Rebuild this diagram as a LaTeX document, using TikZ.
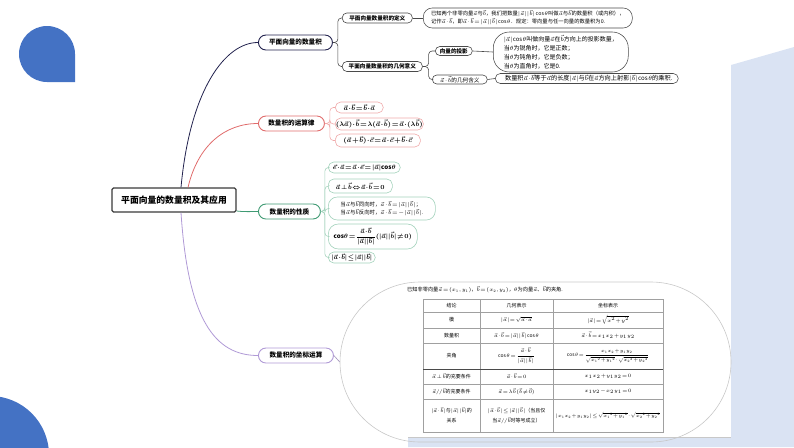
\RequirePackage{fix-cm}
\documentclass[tikz,border=0pt]{standalone}
\usepackage{amsmath,amssymb}
\usepackage{fontspec}
\setmainfont{Noto Sans CJK SC}
\usetikzlibrary{calc}
\definecolor{navyb}{HTML}{22224E}
\definecolor{redb}{HTML}{E06C6C}
\definecolor{redl}{HTML}{F0AAAA}
\definecolor{greenb}{HTML}{3F9A73}
\definecolor{greenl}{HTML}{A3D2BC}
\definecolor{purpb}{HTML}{B09AD6}
\definecolor{dgray}{HTML}{4A4A4A}
\definecolor{cgray}{HTML}{3A3A3A}
\definecolor{tgray}{HTML}{A0A0A0}
\definecolor{stgray}{HTML}{C8C8C8}
\definecolor{bluebg}{HTML}{4472C4}
\definecolor{lightbg}{HTML}{DAE3F3}
\begin{document}
\medmuskip=1mu plus 1mu minus 1mu
\thickmuskip=1.5mu plus 1mu
\thinmuskip=1mu
\begin{tikzpicture}[x=1pt,y=-1pt,
  mainnode/.style={draw=#1, fill=white, rounded corners=7.5pt, minimum height=15pt, inner sep=0pt, line width=0.9pt, font=\fontsize{6.6}{8}\selectfont\bfseries, anchor=west},
  geonode/.style={draw=dgray, fill=white, rounded corners=4.5pt, inner sep=0pt, line width=0.6pt, font=\fontsize{5.6}{7}\selectfont\bfseries, anchor=west},
  geotext/.style={draw=dgray, fill=white, inner sep=0pt, line width=0.55pt, align=left, anchor=west},
  lawnode/.style={draw=redl, fill=white, rounded corners=5.5pt, inner sep=0pt, line width=0.6pt, anchor=west, font=\fontsize{6.4}{8}\selectfont\boldmath},
  propnode/.style={draw=greenl, fill=white, rounded corners=5.5pt, inner sep=0pt, line width=0.6pt, anchor=west, align=center, font=\fontsize{6.2}{8}\selectfont\boldmath},
  cell/.style={inner sep=0pt, font=\fontsize{5}{7}\selectfont, align=center},
  link/.style={line width=0.6pt, rounded corners=3.5pt},
]
\useasboundingbox (0,0) rectangle (794,447);
% background
\fill[lightbg] (731,65) -- (794,47) -- (794,447) -- (408,447) -- (408,438) -- (731,438) -- cycle;
\draw[stgray, line width=0.4pt] (408,437) -- (731,437);
\fill[bluebg] (75,54) arc[start angle=0, end angle=-270, radius=28] -- (75,82) -- cycle;
\begin{scope}
  \clip (0,0) rectangle (794,447);
  \fill[bluebg] (-10,455) circle[radius=59];
\end{scope}

% central node
\node[draw=cgray, line width=1.2pt, rounded corners=1.5pt, minimum width=124, minimum height=24, inner sep=0pt, fill=white, font=\fontsize{8.8}{10}\selectfont\bfseries] (c) at (174,200) {平面向量的数量积及其应用};

% main branch nodes
\node[mainnode=navyb, minimum width=74] (n1) at (258,42.5) {平面向量的数量积};
\node[mainnode=redb, minimum width=66] (n2) at (258,123.5) {数量积的运算律};
\node[mainnode=greenb, minimum width=62] (n3) at (258,211.5) {数量积的性质};
\node[mainnode=purpb, minimum width=75] (n4) at (258,355.5) {数量积的坐标运算};

\draw[navyb, line width=0.8pt] ($(c.north)+(7,0)$) .. controls (190,90) and (225,42.5) .. (n1.west);
\draw[redb, line width=0.8pt] ($(c.north)+(14,0)$) .. controls (198,145) and (225,123.5) .. (n2.west);
\draw[greenb, line width=0.8pt] ($(c.east)+(0,11)$) .. controls (246,212) and (250,211.5) .. (n3.west);
\draw[purpb, line width=0.8pt] ($(c.south)+(7,0)$) .. controls (188,320) and (215,355.5) .. (n4.west);

% branch 1
\node[geonode, minimum width=70, minimum height=10] (d1) at (342,18) {平面向量数量积的定义};
\node[geonode, minimum width=80, minimum height=10] (d2) at (342,66.5) {平面向量数量积的几何意义};
\node[geotext, minimum width=209, minimum height=20, rounded corners=9pt, font=\fontsize{5.3}{8}\selectfont] (d1t) at (423,18)
  {已知两个非零向量$\vec a$与$\vec b$，我们把数量$|\vec a||\vec b|\cos\theta$叫做$\vec a$与$\vec b$的数量积（或内积），\\
   记作$\vec a\cdot\vec b$，即$\vec a\cdot\vec b=|\vec a||\vec b|\cos\theta$．规定：零向量与任一向量的数量积为0.};
\node[geonode, minimum width=37, minimum height=9] (p1) at (435,51) {向量的投影};
\node[geonode, minimum width=55, minimum height=9, font=\fontsize{5.6}{7}\selectfont] (p2) at (432,79.5) {$\vec a\cdot\vec b$的几何含义};
\node[geotext, minimum width=135, minimum height=40, rounded corners=16pt, font=\fontsize{6}{9}\selectfont] (p1t) at (493,52)
  {$|\vec a|\cos\theta$叫做向量$\vec a$在$\vec b$方向上的投影数量，\\
   当$\theta$为锐角时，它是正数；\\
   当$\theta$为钝角时，它是负数；\\
   当$\theta$为直角时，它是0.};
\node[geotext, minimum width=183, minimum height=10, rounded corners=5pt, font=\fontsize{6.2}{8}\selectfont] (p2t) at (495,78.5)
  {\hspace*{4pt}数量积$\vec a\cdot\vec b$等于$\vec a$的长度$|\vec a|$与$\vec b$在$\vec a$方向上射影$|\vec b|\cos\theta$的乘积.};

\draw[link, dgray] (n1.east) -- ++(5,0) |- (d1.west);
\draw[link, dgray] (n1.east) -- ++(5,0) |- (d2.west);
\draw[link, dgray] (d1.east) -- (d1t.west);
\draw[link, dgray] (d2.east) -- ++(6,0) |- (p1.west);
\draw[link, dgray] (d2.east) -- ++(6,0) |- (p2.west);
\draw[link, dgray] (p1.east) -- (p1t.west);
\draw[link, dgray] (p2.east) -- (p2t.west);

% branch 2
\node[lawnode, minimum width=48, minimum height=11] (r1) at (335,107.5) {$\vec a\cdot\vec b=\vec b\cdot\vec a$};
\node[lawnode, minimum width=88, minimum height=12] (r2) at (335,124) {$(\lambda\vec a)\cdot\vec b=\lambda(\vec a\cdot\vec b)=\vec a\cdot(\lambda\vec b)$};
\node[lawnode, minimum width=85, minimum height=13] (r3) at (335,140.5) {$(\vec a+\vec b)\cdot\vec c=\vec a\cdot\vec c+\vec b\cdot\vec c$};
\foreach \t in {r1,r2,r3} \draw[link, redl] (n2.east) -- ++(5,0) |- (\t.west);

% branch 3
\node[propnode, minimum width=72, minimum height=11] (g1) at (328,167.5) {$\vec e\cdot\vec a=\vec a\cdot\vec e=|\vec a|\mathit{cos}\theta$};
\node[propnode, minimum width=64, minimum height=14] (g2) at (328,186) {$\vec a\perp\vec b\Leftrightarrow\vec a\cdot\vec b=0$};
\node[propnode, minimum width=107, minimum height=23, rounded corners=9pt, align=left, font=\fontsize{5.4}{8}\selectfont] (g3) at (328,208.5)
  {当$\vec a$与$\vec b$同向时，$\vec a\cdot\vec b=|\vec a||\vec b|$；\\当$\vec a$与$\vec b$反向时，$\vec a\cdot\vec b=-|\vec a||\vec b|$.};
\node[propnode, minimum width=89, minimum height=25, rounded corners=10pt] (g4) at (328,236.5)
  {$\mathit{cos}\theta=\dfrac{\vec a\cdot\vec b}{|\vec a||\vec b|}(|\vec a||\vec b|\neq0)$};
\node[propnode, minimum width=47, minimum height=11] (g5) at (328,257.5) {$|\vec a\cdot\vec b|\le|\vec a||\vec b|$};
\foreach \t in {g1,g2,g3,g4,g5} \draw[link, greenl] (n3.east) -- ++(4,0) |- (\t.west);

% branch 4: table
\node[draw=stgray, line width=0.6pt, rounded corners=80pt, minimum width=391, minimum height=160, inner sep=0pt] (tb) at (535.5,362) {};
\draw[purpb!70!gray, line width=0.6pt] (n4.east) -- (tb.west);
\node[cell, anchor=west, font=\fontsize{5.2}{7}\selectfont] (cap) at (407,289.5)
  {已知非零向量$\vec a=(x_1,y_1)$，$\vec b=(x_2,y_2)$，$\theta$为向量$\vec a$、$\vec b$的夹角.};
\draw[tgray, line width=0.5pt] (423,299) rectangle (663,432);
\foreach \x in {480,553} \draw[tgray, line width=0.5pt] (\x,299) -- (\x,432);
\foreach \y in {312,328,343,384,399} \draw[tgray, line width=0.5pt] (423,\y) -- (663,\y);
\draw[dgray, line width=0.6pt] (423,369) -- (663,369);

\node[cell] (h1) at (451.5,305.5) {结论};
\node[cell] (h2) at (516.5,305.5) {几何表示};
\node[cell] (h3) at (608,305.5) {坐标表示};
\node[cell] (a1) at (451.5,320) {模};
\node[cell] (a2) at (516.5,320) {$|\vec a|=\sqrt{\vec a\cdot\vec a}$};
\node[cell] (a3) at (608,320) {$|\vec a|=\sqrt{x^2+y^2}$};
\node[cell] (b1) at (451.5,335.5) {数量积};
\node[cell] (b2) at (516.5,335.5) {$\vec a\cdot\vec b=|\vec a||\vec b|\cos\theta$};
\node[cell] (b3) at (608,335.5) {$\vec a\cdot\vec b=x_1x_2+y_1y_2$};
\node[cell] (c1) at (451.5,356) {夹角};
\node[cell] (c2) at (516.5,356) {$\cos\theta=\dfrac{\vec a\cdot\vec b}{|\vec a||\vec b|}$};
\node[cell, font=\fontsize{4.8}{6}\selectfont] (c3) at (608,356) {$\cos\theta=\dfrac{x_1x_2+y_1y_2}{\sqrt{{x_1}^2+{y_1}^2}\cdot\sqrt{{x_2}^2+{y_2}^2}}$};
\node[cell] (e1) at (451.5,376.5) {$\vec a\perp\vec b$的充要条件};
\node[cell] (e2) at (516.5,376.5) {$\vec a\cdot\vec b=0$};
\node[cell] (e3) at (608,376.5) {$x_1x_2+y_1y_2=0$};
\node[cell] (f1) at (451.5,391.5) {$\vec a/\!/\vec b$的充要条件};
\node[cell] (f2) at (516.5,391.5) {$\vec a=\lambda\vec b\,(\vec b\neq\vec 0)$};
\node[cell] (f3) at (608,391.5) {$x_1y_2-x_2y_1=0$};
\node[cell, font=\fontsize{5}{10}\selectfont] (k1) at (451.5,415.5) {$|\vec a\cdot\vec b|$与$|\vec a||\vec b|$的\\关系};
\node[cell, font=\fontsize{5}{10}\selectfont] (k2) at (516.5,415.5) {$|\vec a\cdot\vec b|\le|\vec a||\vec b|$（当且仅\\当$\vec a/\!/\vec b$时等号成立）};
\node[cell, font=\fontsize{4.8}{6}\selectfont] (k3) at (608,415.5) {$|x_1x_2+y_1y_2|\le\sqrt{{x_1}^2+{y_1}^2}\cdot\sqrt{{x_2}^2+{y_2}^2}$};
\end{tikzpicture}
\end{document}
